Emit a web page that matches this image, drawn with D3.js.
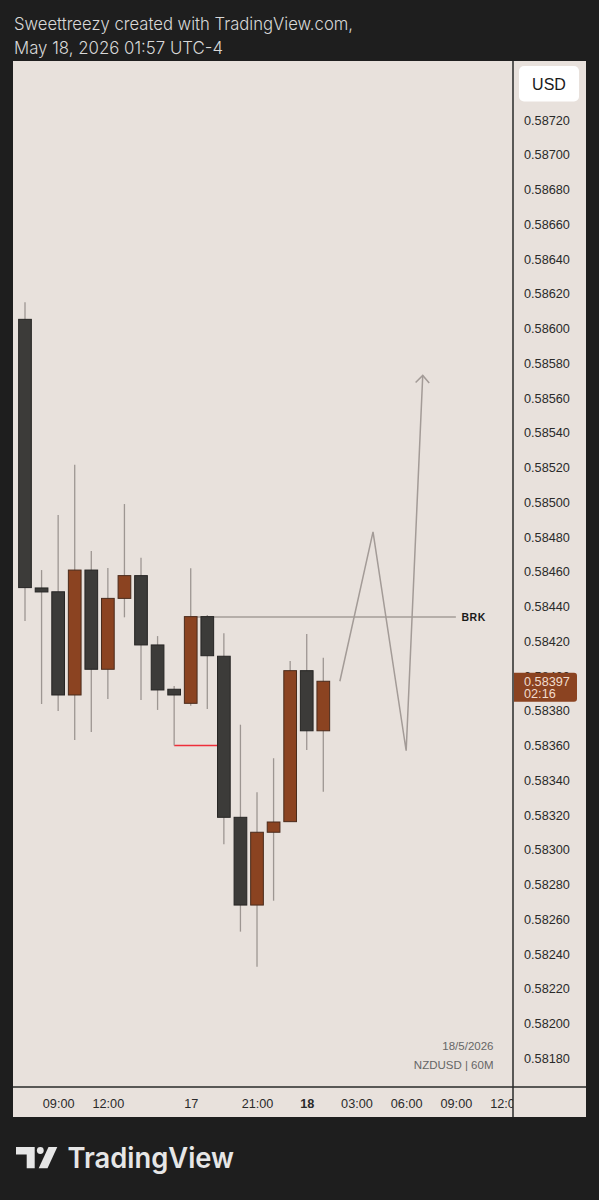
<!DOCTYPE html>
<html>
<head>
<meta charset="utf-8">
<script src="https://cdn.jsdelivr.net/npm/d3@7"></script>
<style>
  html, body { margin: 0; padding: 0; background: #1e1e1e; }
  svg { display: block; }
</style>
</head>
<body>
<svg id="chart" width="599" height="1200"></svg>
<script>
// ---------------- DATA ----------------
const slots = ["07:00","08:00","09:00","10:00","11:00","12:00","13:00","14:00","15:00","16:00",
               "17:00","18:00","19:00","20:00","21:00","22:00","23:00","00:00","01:00"];
const opens  = [0.586053,0.584507,0.584485,0.583891,0.584610,0.584039,0.584447,0.584578,0.584179,0.583924,
                0.583843,0.584342,0.584114,0.583187,0.582682,0.583101,0.583162,0.584031,0.583685];
const highs  = [0.586151,0.584610,0.584927,0.585216,0.584720,0.584622,0.584990,0.584681,0.584230,0.583943,
                0.584620,0.584351,0.584246,0.583720,0.583331,0.583527,0.584087,0.584242,0.584106];
const lows   = [0.584317,0.583839,0.583799,0.583632,0.583678,0.583868,0.584338,0.583862,0.583805,0.583600,
                0.583829,0.583810,0.583032,0.582529,0.582327,0.582707,0.583162,0.583574,0.583334];
const closes = [0.584509,0.584484,0.583891,0.584610,0.584039,0.584447,0.584578,0.584179,0.583920,0.583891,
                0.584342,0.584117,0.583187,0.582682,0.583101,0.583160,0.584031,0.583685,0.583970];

const priceTicks = [0.58720,0.58700,0.58680,0.58660,0.58640,0.58620,0.58600,0.58580,0.58560,0.58540,
                    0.58520,0.58500,0.58480,0.58460,0.58440,0.58420,0.58400,0.58380,0.58360,0.58340,
                    0.58320,0.58300,0.58280,0.58260,0.58240,0.58220,0.58200,0.58180];
const timeTickIdx    = [2, 5, 10, 14, 17, 20, 23, 26, 29];
const timeTickLabels = ["09:00","12:00","17","21:00","18","03:00","06:00","09:00","12:00"];
const timeTickBold   = [false,false,false,false,true,false,false,false,false];

const lastPrice = 0.58397;
const lastPriceLabel = "0.58397";
const countdown = "02:16";

// annotations
const brkLevel = 0.58434, brkFrom = 10, brkTo = 26, brkText = "BRK";
const redLevel = 0.58360, redFrom = 9, redTo = 12;
const pathIdx    = [19, 21, 23, 24];
const pathPrices = [0.58397, 0.58483, 0.58357, 0.58573];

const headerLines = ["Sweettreezy created with TradingView.com,", "May 18, 2026 01:57 UTC-4"];
const footerLines = ["18/5/2026", "NZDUSD | 60M"];

// ---------------- LAYOUT ----------------
const svg = d3.select("#chart");
const panel = {x0: 13, x1: 586, y0: 61, y1: 1117};
const plot  = {x0: 13, x1: 513, y0: 61, y1: 1087};

const y = d3.scaleLinear().domain([0.58180, 0.58720]).range([1058.3, 120.05]);
const x = d3.scaleLinear().domain([0, 18]).range([25, 323.3]);
const bodyW = 12.7;

const BG = "#e8e1dc";
const DARK = "#3c3b39";
const BROWN = "#8b4321";
const WICK = "#9d9692";
const FONT = "'Liberation Sans', Arial, sans-serif";

// header
headerLines.forEach((t, i) => {
  svg.append("text").attr("x", 14).attr("y", 30 + i * 24)
    .attr("fill", "#d8d8d8").attr("font-family", "Inter, 'Liberation Sans', sans-serif")
    .attr("font-size", 17.5).attr("font-weight", 300)
    .attr("textLength", i === 0 ? 339 : 209).attr("lengthAdjust", "spacingAndGlyphs")
    .text(t);
});

// panel
svg.append("rect").attr("x", panel.x0).attr("y", panel.y0)
  .attr("width", panel.x1 - panel.x0).attr("height", panel.y1 - panel.y0).attr("fill", BG);

const defs = svg.append("defs");
defs.append("clipPath").attr("id", "plotclip").append("rect")
  .attr("x", plot.x0).attr("y", plot.y0).attr("width", plot.x1 - plot.x0).attr("height", panel.y1 - plot.y0);

const g = svg.append("g").attr("clip-path", "url(#plotclip)");

// BRK line
g.append("line").attr("x1", x(brkFrom)).attr("x2", x(brkTo))
  .attr("y1", y(brkLevel)).attr("y2", y(brkLevel))
  .attr("stroke", "#a49d99").attr("stroke-width", 1.3);
g.append("text").attr("x", x(brkTo) + 5.5).attr("y", y(brkLevel) + 4)
  .attr("font-family", FONT).attr("font-weight", "bold").attr("font-size", 10.5)
  .attr("letter-spacing", 0.6).attr("fill", "#1a1a1a").text(brkText);

// red line
g.append("line").attr("x1", x(redFrom)).attr("x2", x(redTo))
  .attr("y1", y(redLevel)).attr("y2", y(redLevel))
  .attr("stroke", "#ee2f3a").attr("stroke-width", 1.5);

// candles
const data = slots.map((s, i) => ({i, o: opens[i], h: highs[i], l: lows[i], c: closes[i]}));
g.selectAll("line.wick").data(data).join("line").attr("class", "wick")
  .attr("x1", d => x(d.i)).attr("x2", d => x(d.i))
  .attr("y1", d => y(d.h)).attr("y2", d => y(d.l))
  .attr("stroke", WICK).attr("stroke-width", 1.3);
g.selectAll("rect.body").data(data).join("rect").attr("class", "body")
  .attr("x", d => x(d.i) - bodyW / 2).attr("width", bodyW)
  .attr("y", d => y(Math.max(d.o, d.c)))
  .attr("height", d => Math.max(2.5, Math.abs(y(d.o) - y(d.c))))
  .attr("fill", d => d.c >= d.o ? BROWN : DARK)
  .attr("stroke", d => d.c >= d.o ? "#4a2b1c" : "#262524").attr("stroke-width", 1);

// projected path
const lineGen = d3.line().x(d => x(d[0])).y(d => y(d[1]));
const pts = pathIdx.map((v, i) => [v, pathPrices[i]]);
g.append("path").attr("d", lineGen(pts)).attr("fill", "none")
  .attr("stroke", "#a39b97").attr("stroke-width", 1.5).attr("stroke-linejoin", "miter");
const tip = pts[pts.length - 1], prev = pts[pts.length - 2];
const tx = x(tip[0]), ty = y(tip[1]);
const ang = Math.atan2(ty - y(prev[1]), tx - x(prev[0]));
const ah = 10, spread = Math.PI / 4.2;
g.append("path")
  .attr("d", `M${tx - ah * Math.cos(ang - spread)},${ty - ah * Math.sin(ang - spread)} L${tx},${ty} L${tx - ah * Math.cos(ang + spread)},${ty - ah * Math.sin(ang + spread)}`)
  .attr("fill", "none").attr("stroke", "#a39b97").attr("stroke-width", 1.5);

// footer info
footerLines.forEach((t, i) => {
  svg.append("text").attr("x", 493.5).attr("y", 1050 + i * 18.5)
    .attr("text-anchor", "end").attr("font-family", FONT).attr("font-size", 11.5)
    .attr("fill", "#666").text(t);
});

// price axis
const yAxis = d3.axisRight(y).tickValues(priceTicks).tickSize(0).tickPadding(0)
  .tickFormat(d3.format(".5f"));
const ya = svg.append("g").attr("transform", `translate(524,0)`).call(yAxis);
ya.select(".domain").remove();
ya.selectAll("text").attr("font-family", FONT).attr("font-size", 12.7).attr("fill", "#2a2a2a");

// USD box
svg.append("rect").attr("x", 519).attr("y", 66).attr("width", 60).attr("height", 35.5)
  .attr("rx", 5).attr("fill", "#ffffff");
svg.append("text").attr("x", 549).attr("y", 89.5).attr("text-anchor", "middle")
  .attr("font-family", FONT).attr("font-size", 16).attr("fill", "#1a1a1a").text("USD");

// last price label
const lpY = y(lastPrice);
svg.append("path")
  .attr("d", `M514,${lpY - 8.5} H574 Q577,${lpY - 8.5} 577,${lpY - 5.5} V${lpY + 17.5} Q577,${lpY + 20.5} 574,${lpY + 20.5} H514 Z`)
  .attr("fill", BROWN);
svg.append("text").attr("x", 524).attr("y", lpY + 4.5).attr("font-family", FONT)
  .attr("font-size", 12.7).attr("fill", "#f2dccd").text(lastPriceLabel);
svg.append("text").attr("x", 524).attr("y", lpY + 16.5).attr("font-family", FONT)
  .attr("font-size", 12.7).attr("fill", "#f2dccd").text(countdown);

// time axis
const tg = svg.append("g").attr("clip-path", "url(#plotclip)");
const xAxis = d3.axisBottom(x).tickValues(timeTickIdx).tickSize(0).tickPadding(0)
  .tickFormat((d, i) => timeTickLabels[i]);
const xa = tg.append("g").attr("transform", `translate(0,1099)`).call(xAxis);
xa.select(".domain").remove();
xa.selectAll("text").attr("font-family", FONT).attr("font-size", 12.7).attr("fill", "#2a2a2a")
  .attr("font-weight", (d, i) => timeTickBold[i] ? "bold" : "normal");

// dividers
svg.append("line").attr("x1", plot.x1).attr("x2", plot.x1).attr("y1", panel.y0).attr("y2", panel.y1)
  .attr("stroke", "#2a2a2a").attr("stroke-width", 1.5);
svg.append("line").attr("x1", panel.x0).attr("x2", panel.x1).attr("y1", plot.y1).attr("y2", plot.y1)
  .attr("stroke", "#2a2a2a").attr("stroke-width", 1.5);

// TradingView logo
const logo = svg.append("g").attr("fill", "#e6e6e6");
logo.append("path").attr("d", "M16,1147 H34.7 V1168.3 H26.7 V1154.5 H16 Z");
logo.append("circle").attr("cx", 40.3).attr("cy", 1150.5).attr("r", 3.4);
logo.append("path").attr("d", "M48.5,1147 H57.3 L47.5,1168.3 H38.7 Z");
logo.append("text").attr("x", 67.5).attr("y", 1168.3)
  .attr("font-family", "Inter, 'Open Sans', sans-serif").attr("font-weight", 600)
  .attr("font-size", 28.5).attr("textLength", 166.5).attr("lengthAdjust", "spacingAndGlyphs")
  .text("TradingView");
</script>
</body>
</html>
